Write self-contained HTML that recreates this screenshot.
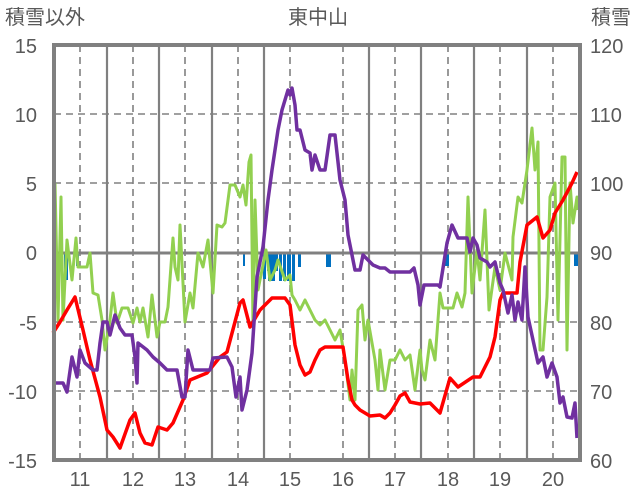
<!DOCTYPE html>
<html><head><meta charset="utf-8"><style>
body{margin:0;background:#fff}
svg{display:block}
text{font-family:"Liberation Sans","Noto Sans CJK JP",sans-serif;fill:#595959;font-size:20px}
</style></head><body>
<svg width="636" height="501" viewBox="0 0 636 501">
<g stroke="#808080" stroke-width="1.6" stroke-dasharray="7,5" fill="none">
<path d="M80 45V460M133 45V460M185 45V460M238 45V460M290 45V460M343 45V460M395 45V460M448 45V460M500 45V460M553 45V460"/>
<path d="M54 114H580M54 183H580M54 322H580M54 391H580"/>
</g>
<g stroke="#808080" stroke-width="2.2" fill="none">
<path d="M107 45V460M159 45V460M212 45V460M264 45V460M369 45V460M421 45V460M474 45V460M527 45V460"/>
</g>
<g fill="#0070c0">
<rect x="64" y="254" width="4" height="26"/><rect x="76" y="254" width="3" height="12"/>
<rect x="243" y="254" width="2" height="12"/><rect x="263" y="254" width="3" height="25"/>
<rect x="267" y="254" width="11" height="17"/><rect x="268" y="254" width="7" height="27"/>
<rect x="279" y="254" width="3" height="27"/><rect x="283" y="254" width="3" height="27"/>
<rect x="287" y="254" width="4" height="27"/><rect x="292" y="254" width="3" height="27"/>
<rect x="298" y="254" width="3" height="13"/><rect x="326" y="254" width="5" height="13"/>
<rect x="445" y="254" width="4" height="12"/><rect x="574" y="254" width="5" height="12"/>
</g>
<path d="M54 253H580" stroke="#808080" stroke-width="3"/>
<g fill="none" stroke-width="3" stroke-linejoin="round">
<polyline stroke="#92d050" points="55,183 58,320 61,197 63,320 67,240 72,280 76,238 78,267 87,267 90,253 93,293 98,295 102,320 105,350 110,320 113,293 117,323 122,308 128,308 133,323 137,308 140,322 143,308 148,337 152,295 157,337 160,322 165,322 168,307 173,238 175,267 178,280 180,225 185,322 190,293 193,308 198,253 203,267 208,240 213,293 217,225 222,227 225,223 230,185 235,185 240,197 243,185 246,205 249,162 251,155 253,327 255,200 258,290 262,270 266,250 270,280 275,270 278,260 285,280 290,275 292,295 295,300 300,310 305,300 310,310 315,320 320,325 325,320 330,330 335,340 340,330 345,360 350,400 352,370 355,400 358,310 362,305 365,340 368,320 375,360 378,390 380,350 385,390 390,360 395,360 400,350 405,360 410,355 415,390 420,350 422,370 425,380 430,340 435,360 440,293 443,308 453,308 457,293 462,307 465,293 468,197 472,293 477,250 480,280 485,210 489,310 495,267 500,290 505,253 512,280 513,237 518,197 522,203 527,170 532,128 535,170 538,142 540,350 543,350 547,297 550,197 555,183 558,320 562,157 565,157 567,350 570,183 573,223 577,197 578,210"/>
<polyline stroke="#ff0000" stroke-width="3.5" points="53,333 60,322 67,310 75,297 83,330 90,360 100,397 107,430 113,437 120,448 130,420 135,413 140,433 145,443 152,445 158,427 167,430 173,423 183,400 190,380 207,373 220,357 227,352 240,303 243,300 250,327 260,310 272,298 285,298 290,305 295,345 300,365 305,375 310,372 315,360 320,350 325,347 343,347 348,380 352,400 355,405 360,410 365,413 370,416 380,415 385,418 390,413 395,405 400,396 405,393 410,402 420,404 430,403 435,408 440,413 450,378 458,387 473,377 480,377 490,357 495,337 500,300 503,293 517,293 520,262 527,225 537,217 543,238 550,230 555,213 563,200 572,183 577,172"/>
<polyline stroke="#7030a0" stroke-width="3.5" points="55,383 63,383 67,392 72,357 77,377 80,350 85,363 93,370 97,370 100,343 103,322 107,322 110,335 115,315 120,328 125,335 132,335 135,357 137,383 138,343 147,350 153,357 160,363 167,370 177,370 182,397 185,397 188,350 193,370 210,370 213,358 227,357 232,367 236,397 240,377 242,410 247,390 252,353 257,277 263,247 268,200 272,170 275,150 278,130 282,110 285,100 288,90 290,95 292,88 295,105 297,130 300,130 305,150 310,153 312,170 315,155 320,170 325,170 330,135 335,135 340,180 345,200 348,235 352,255 355,270 360,270 363,255 368,260 373,265 380,268 385,268 390,272 410,272 414,268 418,285 420,305 424,285 438,285 440,287 447,243 452,225 458,238 467,238 470,252 473,238 477,245 480,258 487,262 490,267 495,262 500,283 503,290 508,313 512,295 515,320 518,302 522,320 525,267 528,317 533,340 538,363 543,357 547,377 552,363 557,377 560,403 563,397 567,417 572,418 575,403 577,438"/>
</g>
<rect x="54" y="45" width="526" height="415" fill="none" stroke="#808080" stroke-width="4"/>
<text x="5" y="24">積雪以外</text>
<text x="318" y="24" text-anchor="middle">東中山</text>
<text x="631" y="24" text-anchor="end">積雪</text>
<g text-anchor="end">
<text x="37" y="53">15</text><text x="37" y="122">10</text><text x="37" y="191">5</text>
<text x="37" y="260">0</text><text x="37" y="330">-5</text><text x="37" y="399">-10</text><text x="37" y="468">-15</text>
</g>
<g>
<text x="590" y="53">120</text><text x="590" y="122">110</text><text x="590" y="191">100</text>
<text x="590" y="260">90</text><text x="590" y="330">80</text><text x="590" y="399">70</text><text x="590" y="468">60</text>
</g>
<g text-anchor="middle">
<text x="80" y="486">11</text><text x="133" y="486">12</text><text x="185" y="486">13</text><text x="238" y="486">14</text><text x="290" y="486">15</text><text x="343" y="486">16</text><text x="395" y="486">17</text><text x="448" y="486">18</text><text x="500" y="486">19</text><text x="553" y="486">20</text>
</g>
</svg>
</body></html>
